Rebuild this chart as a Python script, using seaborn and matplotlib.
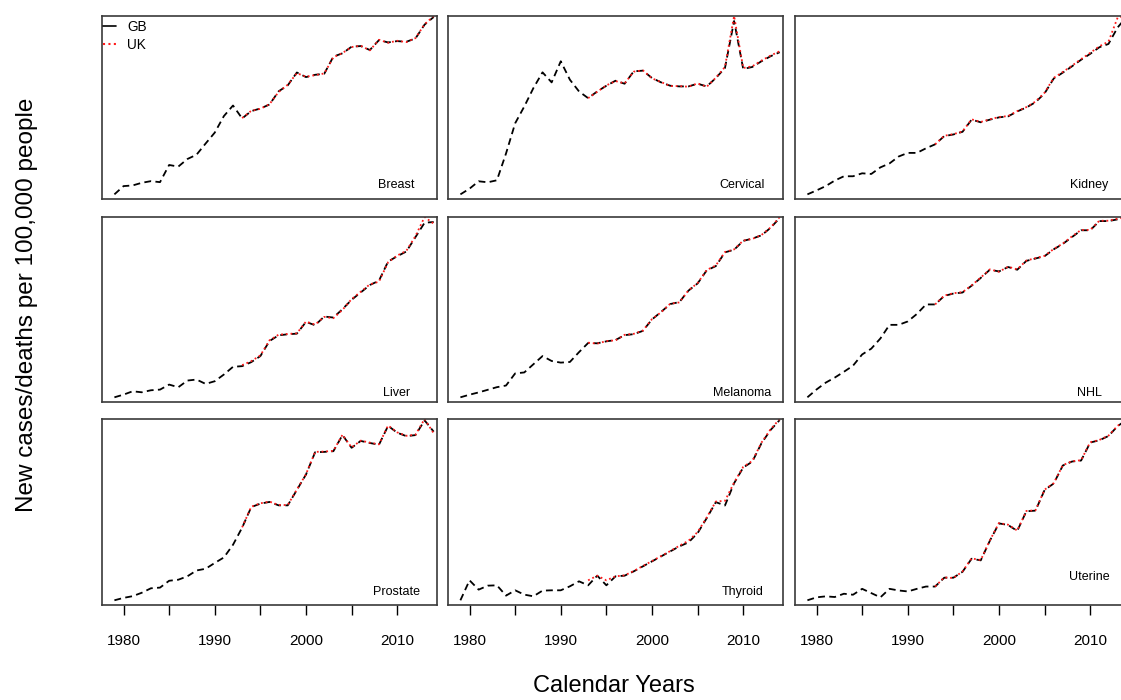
import matplotlib
matplotlib.use("Agg")
import matplotlib.pyplot as plt
import seaborn as sns
import pandas as pd
from matplotlib.lines import Line2D

# ---------------- data (relative rate index) ----------------
years = list(range(1979, 2015))
uk_years = list(range(1993, 2015))
cancers = ["Breast", "Cervical", "Kidney", "Liver", "Melanoma", "NHL",
           "Prostate", "Thyroid", "Uterine"]

breast_gb = [48, 73, 75, 83, 88, 85, 137, 132, 155, 168, 202, 235, 285, 317,
             278, 300, 308, 320, 360, 378, 417, 403, 410, 413, 465, 475, 495, 497,
             485, 515, 508, 512, 510, 520, 562, 585]
breast_uk = [279, 301, 307, 321, 358, 380, 415, 404, 409, 414, 463, 476, 494, 498,
             484, 516, 507, 513, 509, 521, 563, 588]

cervical_gb = [48, 65, 87, 84, 90, 170, 260, 310, 365, 412, 382, 445, 390, 355,
               335, 355, 372, 387, 378, 415, 417, 395, 382, 372, 370, 370, 378, 370,
               395, 425, 565, 422, 428, 445, 460, 472]
cervical_uk = [335, 354, 373, 386, 379, 414, 418, 394, 383, 371, 371, 369, 379, 369,
               396, 428, 580, 425, 430, 447, 462, 475]

kidney_gb = [48, 60, 73, 90, 103, 103, 112, 110, 130, 142, 163, 174, 174, 188,
             200, 225, 230, 238, 275, 267, 275, 282, 285, 300, 312, 328, 355, 400,
             418, 437, 457, 475, 495, 505, 555, 588]
kidney_uk = [200, 226, 231, 239, 276, 268, 276, 283, 286, 301, 313, 330, 357, 402,
             420, 439, 459, 478, 498, 512, 585, 590]

liver_gb = [37, 45, 55, 52, 58, 60, 75, 67, 87, 90, 77, 85, 105, 128,
            130, 142, 160, 205, 222, 225, 227, 262, 252, 278, 275, 300, 328, 350,
            372, 385, 442, 458, 472, 515, 558, 560]
liver_uk = [133, 145, 162, 207, 224, 226, 228, 263, 254, 277, 273, 298, 330, 352,
            374, 382, 440, 460, 474, 518, 575, 555]

melanoma_gb = [37, 45, 52, 60, 68, 73, 110, 113, 138, 163, 148, 143, 145, 175,
               203, 202, 208, 212, 227, 230, 240, 275, 298, 322, 328, 363, 385, 425,
               438, 480, 488, 515, 522, 532, 555, 585]
melanoma_uk = [204, 201, 209, 211, 228, 231, 241, 276, 297, 323, 327, 364, 386, 426,
               440, 481, 489, 516, 521, 533, 556, 588]

nhl_gb = [37, 60, 80, 95, 112, 130, 163, 180, 210, 250, 250, 260, 282, 310,
          310, 335, 342, 345, 365, 388, 412, 407, 420, 412, 438, 445, 452, 472,
          488, 508, 528, 528, 555, 555, 560, 565]
nhl_uk = [310, 336, 343, 346, 366, 389, 413, 406, 421, 413, 439, 446, 453, 473,
          489, 510, 529, 529, 556, 556, 562, 567]

prostate_gb = [43, 50, 55, 65, 78, 80, 100, 103, 113, 130, 135, 152, 168, 205,
               255, 315, 325, 330, 320, 320, 365, 410, 475, 476, 478, 525, 488, 508,
               502, 497, 552, 532, 522, 525, 568, 535]
prostate_uk = [256, 316, 326, 331, 321, 321, 366, 411, 476, 477, 479, 526, 489, 509,
               503, 498, 553, 533, 523, 526, 572, 530]

thyroid_gb = [43, 103, 75, 87, 88, 57, 73, 60, 55, 72, 73, 73, 85, 100,
              88, 117, 88, 115, 117, 130, 145, 160, 175, 190, 205, 217, 245, 290,
              338, 328, 395, 442, 460, 515, 555, 585]
thyroid_uk = [103, 117, 103, 115, 118, 131, 146, 161, 176, 191, 207, 222, 248, 292,
              340, 342, 397, 444, 462, 517, 557, 588]

uterine_gb = [43, 52, 55, 53, 63, 60, 78, 65, 52, 78, 73, 70, 78, 85,
              85, 112, 112, 130, 170, 165, 225, 278, 273, 255, 315, 317, 380, 400,
              455, 467, 470, 525, 532, 545, 575, 595]
uterine_uk = [85, 113, 111, 131, 171, 166, 226, 279, 274, 256, 316, 318, 381, 401,
              456, 468, 471, 526, 533, 546, 576, 597]

gb_series = [breast_gb, cervical_gb, kidney_gb, liver_gb, melanoma_gb, nhl_gb,
             prostate_gb, thyroid_gb, uterine_gb]
uk_series = [breast_uk, cervical_uk, kidney_uk, liver_uk, melanoma_uk, nhl_uk,
             prostate_uk, thyroid_uk, uterine_uk]

tick_years = [1980, 1985, 1990, 1995, 2000, 2005, 2010]
tick_labels = ["1980", "", "1990", "", "2000", "", "2010"]
series_names = ["GB", "UK"]

# ---------------- style ----------------
sns.set_style("white")
plt.rcParams["font.family"] = ["Liberation Sans", "DejaVu Sans"]
plt.rcParams["text.color"] = "black"
plt.rcParams["xtick.color"] = "black"
plt.rcParams["xtick.labelcolor"] = "black"

fig = plt.figure(figsize=(11.21, 7.0), dpi=100)

col_x = [102 / 1121, 448 / 1121, 795 / 1121]
col_w = 335 / 1121
row_y = [(700 - 199) / 700, (700 - 402) / 700, (700 - 605) / 700]
row_h = [183 / 700, 185 / 700, 186 / 700]
label_y = [0.075, 0.077, 0.075, 0.048, 0.046, 0.046, 0.072, 0.072, 0.152]

gb_style = dict(color="black", linewidth=1.3, linestyle=(0, (3.8, 2.4)))
uk_style = dict(color="#ff1a1a", linewidth=1.3, linestyle=(0, (1.0, 1.6)))

for i, name in enumerate(cancers):
    r, c = divmod(i, 3)
    ax = fig.add_axes([col_x[c], row_y[r], col_w, row_h[r]])
    gb = pd.DataFrame({"year": years, "rate": gb_series[i]})
    uk = pd.DataFrame({"year": uk_years, "rate": uk_series[i]})
    sns.lineplot(data=gb, x="year", y="rate", ax=ax, errorbar=None, legend=False, **gb_style)
    sns.lineplot(data=uk, x="year", y="rate", ax=ax, errorbar=None, legend=False, **uk_style)

    allv = gb_series[i] + uk_series[i]
    lo, hi = min(allv), max(allv)
    ax.set_xlim(1977.64, 2014.36)
    ax.set_ylim(lo - 0.026 * (hi - lo), hi)
    ax.set_yticks([])
    ax.set_xlabel("")
    ax.set_ylabel("")
    for s in ax.spines.values():
        s.set_visible(True)
        s.set_color("#3a3a3a")
        s.set_linewidth(1.2)
    if r == 2:
        ax.set_xticks(tick_years)
        ax.set_xticklabels(tick_labels)
        ax.tick_params(axis="x", direction="out", length=7, width=1.0,
                       color="black", labelsize=11, pad=14, bottom=True,
                       labelcolor="black")
    else:
        ax.set_xticks([])
    ax.text(0.879, label_y[i], name, transform=ax.transAxes, ha="center",
            va="center", fontsize=9, color="black")

    if i == 0:
        handles = [Line2D([], [], color="black", lw=1.2),
                   Line2D([], [], color="#ff1a1a", lw=1.5, ls=(0, (1.0, 1.6)))]
        leg = ax.legend(handles, series_names, loc="upper left",
                        bbox_to_anchor=(-0.006, 0.995), frameon=False, fontsize=9.8,
                        handlelength=0.95, handletextpad=0.85, labelspacing=0.32,
                        borderpad=0.2, borderaxespad=0)
        for t in leg.get_texts():
            t.set_color("black")

fig.text(614 / 1121, 1 - 686 / 700, "Calendar Years", ha="center", va="center",
         fontsize=17, color="black")
fig.text(27 / 1121, 1 - 305 / 700, "New cases/deaths per 100,000 people",
         ha="center", va="center", rotation=90, fontsize=17.5, color="black")

fig.savefig("out.png", dpi=100)
